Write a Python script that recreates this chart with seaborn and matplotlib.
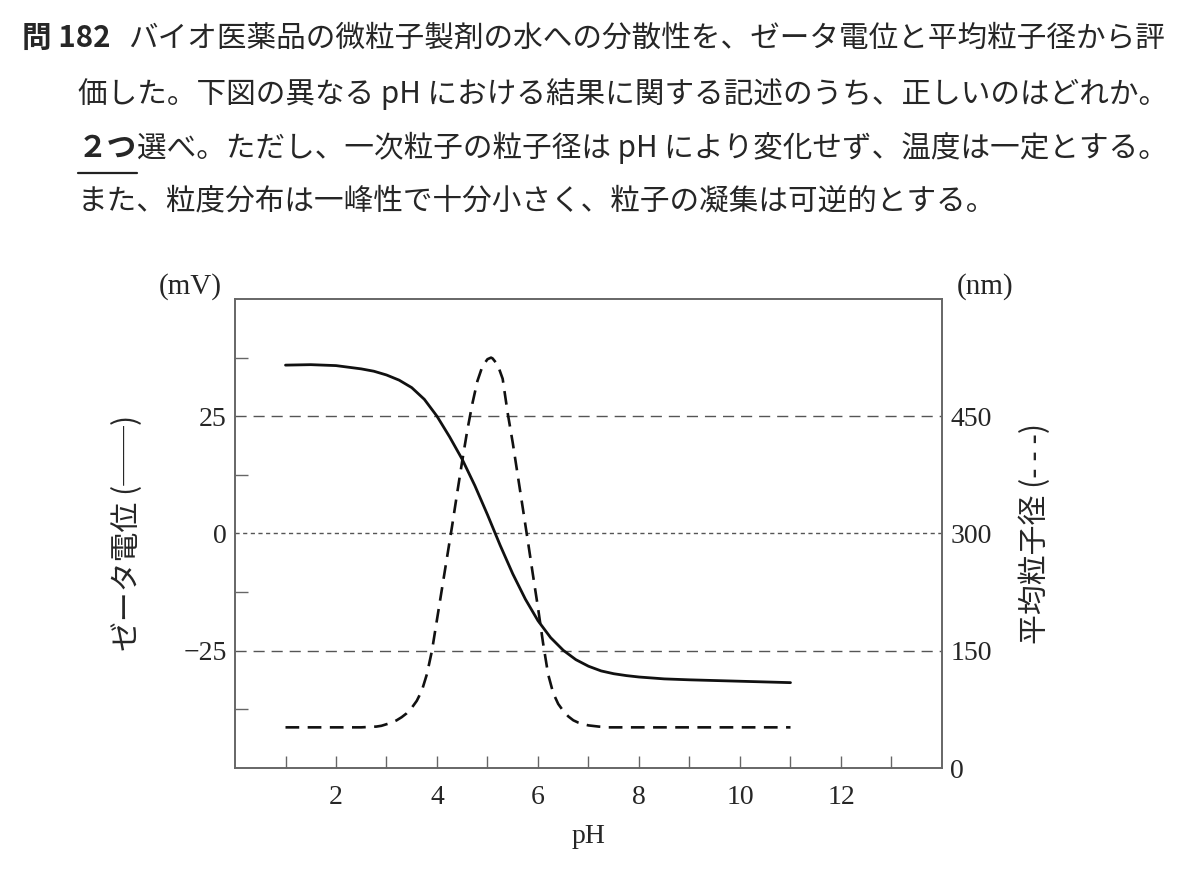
import matplotlib
matplotlib.use('Agg')
import matplotlib.pyplot as plt
import seaborn as sns
import pandas as pd
from matplotlib.lines import Line2D

# zeta potential (solid line), mV
ph_zeta = [1.0, 1.5, 2.0, 2.5, 2.75, 3.0, 3.25, 3.5, 3.75, 4.0, 4.25, 4.5, 4.75,
           5.0, 5.25, 5.5, 5.75, 6.0, 6.25, 6.5, 6.75, 7.0, 7.25, 7.5, 7.75,
           8.0, 8.5, 9.0, 9.5, 10.0, 10.5, 11.0]
zeta_mv = [35.9, 36.0, 35.8, 35.1, 34.6, 33.8, 32.7, 31.1, 28.6, 25.0, 20.6, 15.8, 10.2,
           4.0, -2.5, -8.6, -14.0, -18.6, -22.2, -24.9, -26.9, -28.3, -29.3, -29.9, -30.3,
           -30.6, -31.0, -31.2, -31.35, -31.5, -31.65, -31.8]

# mean particle size (dashed line), nm
ph_size = [1.0, 2.0, 2.5, 2.8, 2.9, 3.0, 3.1, 3.2, 3.3, 3.4, 3.5, 3.6, 3.7, 3.8, 3.9,
           4.0, 4.1, 4.2, 4.3, 4.4, 4.5, 4.6, 4.7, 4.8, 4.9, 5.0, 5.07, 5.1, 5.2,
           5.3, 5.4, 5.5, 5.6, 5.7, 5.8, 5.9, 6.0, 6.1, 6.2, 6.3, 6.4, 6.5, 6.6,
           6.7, 6.8, 6.9, 7.0, 7.2, 7.4, 8.0, 9.0, 10.0, 11.0]
size_nm = [52, 52, 52, 53, 54, 56, 58, 61, 65, 70, 77, 86, 99, 120, 150,
           190, 230, 270, 310, 352, 393, 432, 466, 495, 514, 523, 525, 524, 516,
           498, 454, 416, 374, 332, 290, 247, 205, 160, 120, 96, 82, 73, 66,
           61, 58, 56, 54.5, 53, 52, 52, 52, 52, 52]

xticks = list(range(1, 14))
xtick_labels = ['' if t % 2 else str(t) for t in xticks]
zeta_ticks = [-25, 0, 25]
zeta_labels = ['\u221225', '0', '25']
zeta_minor = [-37.5, -12.5, 12.5, 37.5]
size_ticks = [0, 150, 300, 450]

question = [
    'バイオ医薬品の微粒子製剤の水への分散性を、ゼータ電位と平均粒子径から評',
    '価した。下図の異なる pH における結果に関する記述のうち、正しいのはどれか。',
    '選べ。ただし、一次粒子の粒子径は pH により変化せず、温度は一定とする。',
    'また、粒度分布は一峰性で十分小さく、粒子の凝集は可逆的とする。',
]

sns.set_theme(style='white')
plt.rcParams['font.family'] = ['Noto Sans CJK JP', 'DejaVu Sans']
serif = ['Liberation Serif', 'DejaVu Serif']
spine_col = '#666666'

fig = plt.figure(figsize=(12, 8.8), dpi=100)
W, H = 1200, 880
ax = fig.add_axes([235 / W, 1 - 768 / H, (942 - 235) / W, (768 - 299) / H])
ax2 = ax.twinx()

df_z = pd.DataFrame({'pH': ph_zeta, 'zeta': zeta_mv})
df_s = pd.DataFrame({'pH': ph_size, 'size': size_nm})

sns.lineplot(data=df_z, x='pH', y='zeta', ax=ax, color='#111111', lw=2.0)
sns.lineplot(data=df_s, x='pH', y='size', ax=ax2, color='#111111', lw=1.9)
ax2.lines[0].set_dashes((5.2, 3.2))

ax.set_xlim(0, 14)
ax.set_ylim(-50, 50)
ax2.set_ylim(0, 600)

# reference lines
for v in (25, -25):
    ax.axhline(v, color='#555555', lw=1.0, dashes=(8, 5), zorder=0)
ax.axhline(0, color='#555555', lw=1.0, dashes=(3, 2.5), zorder=0)

ax.set_xticks(xticks)
ax.set_xticklabels(xtick_labels, fontfamily=serif, fontsize=20)
ax.tick_params(axis='x', direction='in', length=9, width=1, color=spine_col, pad=12,
               bottom=True)

ax.set_yticks(zeta_ticks)
ax.set_yticklabels(zeta_labels, fontfamily=serif, fontsize=20)
ax.set_yticks(zeta_minor, minor=True)
ax.tick_params(axis='y', which='major', length=0, pad=6, left=True)
ax.tick_params(axis='y', which='minor', direction='in', length=9, width=1,
               color=spine_col, left=True)

ax2.set_yticks(size_ticks)
ax2.set_yticklabels([str(v) for v in size_ticks], fontfamily=serif, fontsize=20)
ax2.tick_params(axis='y', length=0, pad=6, right=True)

for a in (ax, ax2):
    for s in a.spines.values():
        s.set_color(spine_col)
        s.set_linewidth(1.2)
    a.grid(False)

ax.set_xlabel('pH', fontfamily=serif, fontsize=20, labelpad=10)
ax.set_ylabel('')
ax2.set_ylabel('')

fig.text(128 / W, 1 - 533 / H, 'ゼータ電位 (──)', rotation=90, fontsize=21.5,
         ha='center', va='center')
fig.text(1035 / W, 1 - 533 / H, '平均粒子径 (- - -)', rotation=90, fontsize=21.5,
         ha='center', va='center')
fig.text(190 / W, 1 - 287 / H, '(mV)', fontfamily=serif, fontsize=21,
         ha='center', va='center')
fig.text(985 / W, 1 - 287 / H, '(nm)', fontfamily=serif, fontsize=21,
         ha='center', va='center')

# question text
fs = 21.3
fig.text(22 / W, 1 - 38 / H, '問 182', fontsize=fs, fontweight='bold', va='center')
fig.text(128 / W, 1 - 38 / H, question[0], fontsize=fs, va='center')
fig.text(78 / W, 1 - 94 / H, question[1], fontsize=fs, va='center')
t2 = fig.text(78 / W, 1 - 148 / H, '２つ', fontsize=fs, fontweight='bold', va='center')
fig.canvas.draw()
bb = t2.get_window_extent(fig.canvas.get_renderer())
fig.text(bb.x1 / W, 1 - 148 / H, question[2], fontsize=fs, va='center')
fig.add_artist(Line2D([bb.x0 / W, bb.x1 / W], [1 - 173 / H] * 2, color='#222222',
                      lw=1.6, transform=fig.transFigure))
fig.text(78 / W, 1 - 201 / H, question[3], fontsize=fs, va='center')

fig.savefig('out.png', dpi=100, facecolor='white')
